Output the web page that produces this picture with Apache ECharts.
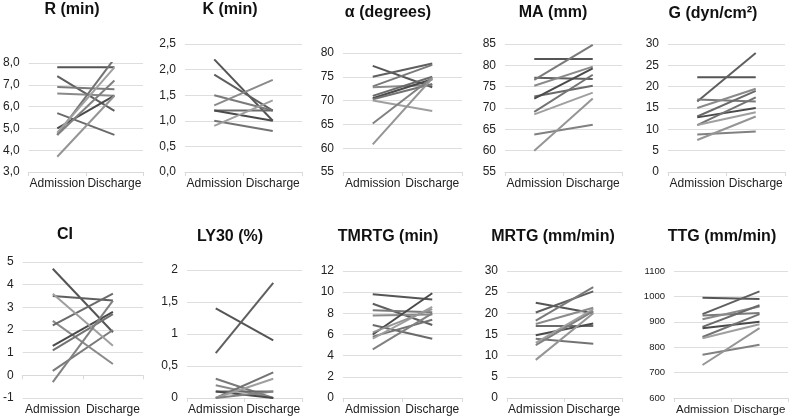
<!DOCTYPE html>
<html>
<head>
<meta charset="utf-8">
<script src="https://cdn.jsdelivr.net/npm/echarts@6/dist/echarts.min.js"></script>
<style>
  html, body { margin: 0; padding: 0; background: #fff; }
  #chart { width: 789px; height: 417px; }
</style>
</head>
<body>
<div id="chart"></div>
<script>
// categories
const categories = ['Admission', 'Discharge'];

// values per panel (admission / discharge, one entry per patient)
const rAdm = [7.8, 7.4, 6.9, 6.6, 5.7, 5.0, 4.7, 4.8, 4.7, 3.7];
const rDis = [7.8, 5.8, 6.8, 6.5, 4.7, 6.5, 8.2, 7.8, 7.2, 6.5];

const kAdm = [2.2, 1.9, 1.5, 1.3, 1.2, 1.2, 1.0, 0.9];
const kDis = [1.0, 1.2, 1.2, 1.8, 1.2, 1.0, 0.8, 1.4];

const alphaAdm = [77.3, 75.0, 73.0, 72.8, 71.0, 70.5, 70.3, 70.0, 65.2, 60.8];
const alphaDis = [72.8, 77.8, 77.5, 73.3, 75.0, 74.5, 73.5, 67.8, 74.8, 74.7];

const maAdm = [81.5, 77.1, 76.6, 75.2, 72.7, 72.2, 69.1, 68.5, 63.8, 60.0];
const maDis = [81.5, 76.8, 84.8, 79.7, 75.2, 79.3, 77.8, 73.6, 66.1, 72.2];

const gAdm = [22.2, 16.5, 17.0, 15.0, 13.0, 12.8, 11.0, 11.0, 8.8, 7.5];
const gDis = [22.2, 27.9, 16.5, 19.5, 19.0, 15.0, 17.5, 14.0, 9.5, 13.0];

const ciAdm = [4.7, 3.5, 0.2, 2.4, 2.2, 1.3, 1.1, 3.6, -0.3];
const ciDis = [1.9, 3.3, 2.0, 0.5, 3.6, 2.8, 2.7, 1.3, 3.3];

const ly30Adm = [1.4, 0.7, 0.3, 0.2, 0.1, 0.1, 0.0, 0.0, 0.0];
const ly30Dis = [0.9, 1.8, 0.0, 0.0, 0.1, 0.0, 0.4, 0.3, 0.1];

const tmrtgAdm = [9.8, 8.9, 8.3, 7.8, 6.9, 6.0, 5.8, 5.6, 4.6, 6.2];
const tmrtgDis = [9.3, 6.9, 8.1, 7.9, 5.6, 9.9, 7.4, 8.6, 8.0, 8.4];

const mrtgAdm = [22.5, 20.2, 18.3, 17.5, 17.0, 14.8, 14.0, 13.0, 12.5, 9.0];
const mrtgDis = [20.0, 25.2, 26.2, 21.3, 17.0, 17.6, 12.8, 21.0, 20.5, 20.0];

const ttgAdm = [995, 930, 925, 910, 880, 875, 840, 835, 770, 730];
const ttgDis = [990, 1020, 935, 960, 965, 900, 930, 890, 810, 875];

// titles and y axis ranges
const titles = ['R (min)', 'K (min)', 'α (degrees)', 'MA (mm)', 'G (dyn/cm²)',
  'CI', 'LY30 (%)', 'TMRTG (min)', 'MRTG (mm/min)', 'TTG (mm/min)'];
const yMin = [3, 0, 55, 55, 0, -1, 0, 0, 0, 600];
const yMax = [8, 2.5, 80, 85, 30, 5, 2, 12, 30, 1100];
const yStep = [1, 0.5, 5, 5, 5, 1, 0.5, 2, 5, 100];

const admList = [rAdm, kAdm, alphaAdm, maAdm, gAdm, ciAdm, ly30Adm, tmrtgAdm, mrtgAdm, ttgAdm];
const disList = [rDis, kDis, alphaDis, maDis, gDis, ciDis, ly30Dis, tmrtgDis, mrtgDis, ttgDis];

// layout (pixels)
const boxes = [
  { left: 27, top: 63, width: 116, height: 109, tx: 72, ty: 10 },
  { left: 185, top: 44, width: 117, height: 128, tx: 230, ty: 10 },
  { left: 343, top: 53, width: 119, height: 119, tx: 388, ty: 13 },
  { left: 505, top: 44, width: 117, height: 128, tx: 553, ty: 13 },
  { left: 668, top: 44, width: 117, height: 128, tx: 713, ty: 14 },
  { left: 22, top: 262, width: 121, height: 136, tx: 65, ty: 235 },
  { left: 187, top: 270, width: 115, height: 128, tx: 230, ty: 237 },
  { left: 343, top: 271, width: 119, height: 127, tx: 388, ty: 237 },
  { left: 507, top: 271, width: 115, height: 127, tx: 553, ty: 237 },
  { left: 674, top: 271, width: 114, height: 127, tx: 722, ty: 237 }
];

const grays = ['#555555', '#5f5f5f', '#7a7a7a', '#8a8a8a', '#6a6a6a',
  '#4a4a4a', '#737373', '#9f9f9f', '#818181', '#959595'];

const font = '"Liberation Sans", Arial, Helvetica, sans-serif';

function yLabel(i) {
  return function (v) {
    if (i === 0 || i === 1) return v.toFixed(1).replace('.', ',');
    return String(v).replace('.', ',');
  };
}

const grid = [], xAxis = [], yAxis = [], series = [], graphic = [];
boxes.forEach((b, i) => {
  grid.push({ left: b.left, top: b.top, width: b.width, height: b.height });
  xAxis.push({
    type: 'category',
    gridIndex: i,
    data: categories,
    boundaryGap: true,
    axisLine: { lineStyle: { color: '#d9d9d9' } },
    axisTick: { show: true, length: 4, lineStyle: { color: '#d9d9d9' } },
    axisLabel: { color: '#222', fontSize: i === 9 ? 11.5 : 12, fontFamily: font, margin: 6, interval: 0 }
  });
  yAxis.push({
    type: 'value',
    gridIndex: i,
    min: yMin[i],
    max: yMax[i],
    interval: yStep[i],
    axisLine: { show: false },
    axisTick: { show: false },
    splitLine: { lineStyle: { color: '#dedede' } },
    axisLabel: {
      color: '#222',
      fontSize: i === 9 ? 9.5 : 12,
      fontFamily: font,
      margin: 9,
      formatter: yLabel(i)
    }
  });
  admList[i].forEach((a, j) => {
    series.push({
      type: 'line',
      xAxisIndex: i,
      yAxisIndex: i,
      data: [a, disList[i][j]],
      symbol: 'none',
      silent: true,
      lineStyle: { color: grays[j % grays.length], width: 2 }
    });
  });
  graphic.push({
    type: 'text',
    x: b.tx,
    y: b.ty,
    style: {
      text: titles[i],
      fill: '#111',
      font: 'bold 16px ' + font,
      textAlign: 'center',
      textVerticalAlign: 'middle'
    }
  });
});

const chart = echarts.init(document.getElementById('chart'), null, { renderer: 'canvas' });
chart.setOption({
  animation: false,
  backgroundColor: '#fff',
  grid: grid,
  xAxis: xAxis,
  yAxis: yAxis,
  series: series,
  graphic: graphic
});
</script>
</body>
</html>
